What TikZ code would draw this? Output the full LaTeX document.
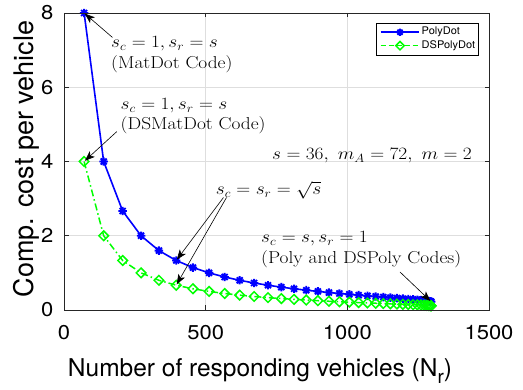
\documentclass[tikz,border=0pt]{standalone}
\usepackage{fontspec}
\setsansfont{TeX Gyre Heros}
\usetikzlibrary{arrows.meta}

\definecolor{axisgray}{gray}{0.15}
\definecolor{gridgray}{gray}{0.87}

\newcommand\tickfont{\sffamily\fontsize{20}{24}\selectfont}
\newcommand\axlabfont{\sffamily\fontsize{27}{32}\selectfont}
\newcommand\xlabfont{\sffamily\fontsize{24.5}{29}\selectfont}
\newcommand\legfont{\sffamily\fontsize{10.5}{12}\selectfont}
\newcommand\notefont{\fontsize{17.28}{20}\selectfont}

% eight-ray asterisk marker
\pgfdeclareplotmark{starmark}{%
  \pgfpathmoveto{\pgfqpoint{-\pgfplotmarksize}{0pt}}%
  \pgfpathlineto{\pgfqpoint{\pgfplotmarksize}{0pt}}%
  \pgfpathmoveto{\pgfqpoint{0pt}{-\pgfplotmarksize}}%
  \pgfpathlineto{\pgfqpoint{0pt}{\pgfplotmarksize}}%
  \pgfpathmoveto{\pgfpoint{-0.707\pgfplotmarksize}{-0.707\pgfplotmarksize}}%
  \pgfpathlineto{\pgfpoint{0.707\pgfplotmarksize}{0.707\pgfplotmarksize}}%
  \pgfpathmoveto{\pgfpoint{-0.707\pgfplotmarksize}{0.707\pgfplotmarksize}}%
  \pgfpathlineto{\pgfpoint{0.707\pgfplotmarksize}{-0.707\pgfplotmarksize}}%
  \pgfusepathqstroke}
% open diamond marker
\pgfdeclareplotmark{diamondmark}{%
  \pgfpathmoveto{\pgfqpoint{0pt}{\pgfplotmarksize}}%
  \pgfpathlineto{\pgfqpoint{\pgfplotmarksize}{0pt}}%
  \pgfpathlineto{\pgfqpoint{0pt}{-\pgfplotmarksize}}%
  \pgfpathlineto{\pgfqpoint{-\pgfplotmarksize}{0pt}}%
  \pgfpathclose
  \pgfusepathqstroke}

\tikzset{
  gridline/.style={gridgray, line width=0.6pt},
  axisline/.style={axisgray, line width=0.7pt},
  polyline/.style={blue, line width=1.6pt, mark=starmark, mark size=4.2pt,
    mark options={line width=1.9pt}},
  dsline/.style={green, line width=1.5pt, dash pattern=on 7pt off 3pt on 1.5pt off 3pt,
    mark=diamondmark, mark size=4.8pt, mark options={solid}},
  ticklabel/.style={font=\tickfont, inner sep=0pt, xscale=1.1},
  axislabel/.style={font=\axlabfont, inner sep=0pt},
  note/.style={font=\notefont, inner sep=0pt, anchor=base west, xscale=1.12},
  notearrow/.style={black, line width=0.6pt, -{Stealth[length=10pt,width=7.5pt,inset=2.5pt]}, shorten >=1pt},
  legtext/.style={font=\legfont, inner sep=0pt, anchor=west, xscale=1.05},
}

\begin{document}
\begin{tikzpicture}[x=1pt, y=1pt]
\useasboundingbox (0,0) rectangle (523,390);

% plotting frame: N_r from 0 to 1500, cost from 0 to 8
\begin{scope}[shift={(64pt,80pt)}, x=0.283333pt, y=37.125pt]
  % grid
  \foreach \n in {500,1000} \draw[gridline] (\n,0) -- (\n,8);
  \foreach \c in {2,4,6} \draw[gridline] (0,\c) -- (1500,\c);

  % data: s_c = k, N_r = 72k - k^2, cost 8/k and 4/k
  \draw[polyline] plot[domain=1:36, samples=36] ({72*\x-\x*\x},{8/\x});
  \draw[dsline] plot[domain=1:36, samples=36] ({72*\x-\x*\x},{4/\x});

  \coordinate (pA) at (71,8);
  \coordinate (qA) at (71,4);
  \coordinate (pB) at (396,8/6);
  \coordinate (qB) at (396,4/6);
  \coordinate (pC) at (1296,8/36);

  % box and ticks
  \draw[axisline] (0,0) rectangle (1500,8);
  \foreach \n in {0,500,1000,1500} {
    \draw[axisline] (\n,0) -- ++(0,4.5pt);
    \draw[axisline] (\n,8) -- ++(0,-4.5pt);
    \node[ticklabel] (xt\n) at (\n,0) [yshift=-23pt] {\n};
  }
  \foreach \c in {0,2,4,6,8} {
    \draw[axisline] (0,\c) -- ++(4.5pt,0);
    \draw[axisline] (1500,\c) -- ++(-4.5pt,0);
    \node[ticklabel, anchor=east] (yt\c) at (0,\c) [xshift=-9.5pt] {\c};
  }
\end{scope}

% axis labels
\node[axislabel, font=\xlabfont, anchor=base] (xlab) at (260,13.5)
  {Number of responding vehicles (N\raisebox{-7.5pt}{\fontsize{19}{22}\selectfont r})};
\node[axislabel, anchor=base, rotate=90] (ylab) at (33.5,231) {Comp. cost per vehicle};

% legend
\draw[black, line width=0.5pt, fill=white] (376,335) rectangle (478,367);
\coordinate (la) at (380.5,357.7);
\coordinate (lb) at (419,357.7);
\coordinate (lc) at (380.5,344.3);
\coordinate (ld) at (419,344.3);
\draw[polyline, mark=none] (la) -- (lb);
\draw[polyline, mark size=3.6pt] plot coordinates {(400,357.7)};
\draw[dsline, mark=none, dash pattern=on 5pt off 3pt] (lc) -- (ld);
\draw[dsline, mark size=4.2pt] plot coordinates {(400,344.3)};
\node[legtext] (leg1) at (421.5,357.7) {PolyDot};
\node[legtext] (leg2) at (421.5,344.3) {DSPolyDot};

% annotations
\node[note] (n1a) at (111,342) {$s_c=1, s_r=s$};
\node[note] (n1b) at (111,321) {(MatDot Code)};
\coordinate (t1) at (112.5,352.5);
\draw[notearrow] (t1) -- (pA);

\node[note] (n2a) at (120.5,280) {$s_c=1, s_r=s$};
\node[note] (n2b) at (120.5,260) {(DSMatDot Code)};
\coordinate (t2) at (116.7,258.3);
\draw[notearrow] (t2) -- (qA);

\node[note] (n3) at (272,230.5) {$s=36,\ m_A=72,\ m=2$};

\node[note] (n4) at (215.7,195) {$s_c=s_r=\sqrt{s}$};
\coordinate (t4a) at (223.5,192.5);
\coordinate (t4b) at (226.5,192.5);
\draw[notearrow] (t4a) -- (pB);
\draw[notearrow] (t4b) -- (qB);

\node[note] (n5a) at (261,147) {$s_c=s, s_r=1$};
\node[note] (n5b) at (261,126.5) {(Poly and DSPoly Codes)};
\coordinate (t5) at (400,118);
\draw[notearrow] (t5) -- (pC);
\end{tikzpicture}
\end{document}
